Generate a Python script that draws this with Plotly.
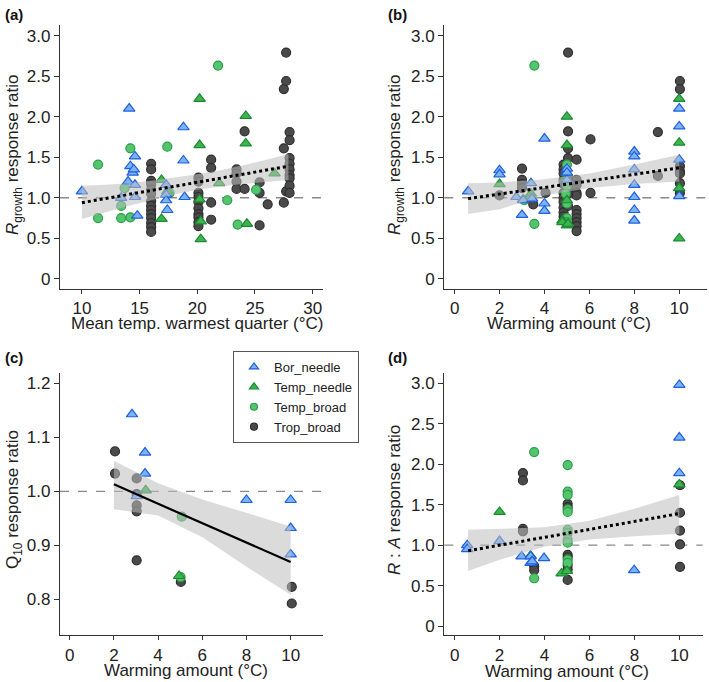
import plotly.graph_objects as go

W, H = 709, 682

# ---------------- Panel (a): Rgrowth vs mean temp warmest quarter ----------------
a_bor_x = [10.0, 13.4, 14.1, 14.0, 14.2, 14.4, 14.5, 14.6, 14.6, 14.6, 14.8, 17.3, 17.3, 17.3, 17.4, 18.8, 18.8, 18.9]
a_bor_y = [1.08, 1.00, 2.10, 1.20, 1.39, 1.31, 1.35, 1.51, 1.16, 1.01, 0.78, 1.16, 1.04, 0.97, 0.85, 1.87, 1.46, 1.01]
a_tn_x = [16.9, 16.9, 17.4, 20.2, 20.2, 20.2, 20.3, 20.3, 21.9, 24.2, 24.2, 24.3, 26.7]
a_tn_y = [1.22, 0.74, 1.08, 2.22, 1.65, 0.98, 0.71, 0.49, 1.18, 2.01, 1.67, 0.68, 1.30]
a_tb_x = [11.4, 11.4, 13.4, 13.7, 13.4, 14.2, 14.2, 17.4, 17.6, 21.8, 22.6, 23.5, 25.1]
a_tb_y = [1.41, 0.75, 0.75, 1.12, 0.90, 1.61, 0.76, 1.63, 1.06, 2.63, 0.97, 0.67, 1.10]
a_tr_x = [16.0, 16.0, 16.0, 16.0, 16.0, 16.0, 16.0, 16.0, 16.0, 16.0, 16.0, 16.0, 16.0, 16.0,
          20.1, 20.1, 20.1, 20.1, 20.1, 20.1, 20.1, 20.1, 20.1, 20.1,
          21.2, 21.2, 21.2, 21.2, 23.4, 23.4, 23.4, 23.4, 24.1, 24.1,
          25.4, 25.4, 25.4, 26.1, 27.5, 27.5, 27.5, 27.7, 27.7, 27.7,
          28.0, 28.0, 28.0, 28.0, 28.0, 28.0, 28.0, 28.0, 28.0]
a_tr_y = [1.42, 1.35, 1.21, 1.17, 1.10, 1.05, 0.96, 0.90, 0.85, 0.80, 0.75, 0.69, 0.64, 0.58,
          1.25, 1.20, 1.06, 1.01, 0.95, 0.87, 0.80, 0.76, 0.70, 0.65,
          1.47, 1.37, 0.94, 0.73, 1.35, 1.30, 1.20, 1.11, 1.82, 1.11,
          1.19, 1.06, 0.66, 0.92, 2.34, 1.61, 0.94, 2.79, 2.44, 1.08,
          1.81, 1.71, 1.49, 1.42, 1.35, 1.28, 1.24, 1.15, 1.06]
a_fit_x = [10.0, 27.9]
a_fit_y = [0.94, 1.39]
a_ci_x = [10, 12, 14, 16, 18, 20, 22, 24, 26, 27.9]
a_ci_hi = [1.15, 1.16, 1.18, 1.21, 1.25, 1.29, 1.34, 1.40, 1.47, 1.54]
a_ci_lo = [0.74, 0.82, 0.90, 0.97, 1.04, 1.10, 1.14, 1.17, 1.20, 1.22]

# ---------------- Panel (b): Rgrowth vs warming amount ----------------
b_bor_x = [0.6, 2.0, 2.0, 2.75, 3.0, 3.05, 3.4, 3.45, 4.0, 4.0, 4.0, 5.0, 5.0, 5.0,
           8.0, 8.0, 8.0, 8.0, 8.0, 8.0, 8.0, 10.0, 10.0, 10.0, 10.0]
b_bor_y = [1.08, 1.34, 1.29, 1.01, 0.79, 0.97, 1.18, 0.99, 1.73, 0.93, 0.84, 1.36, 1.31, 1.22,
           1.57, 1.51, 1.35, 1.16, 1.01, 0.85, 0.72, 2.10, 1.88, 1.47, 1.02]
b_tn_x = [2.0, 3.4, 3.05, 4.8, 4.8, 5.0, 5.0, 5.0, 4.9, 5.0, 5.0, 5.05, 10.0, 10.0, 10.0, 10.0]
b_tn_y = [1.17, 1.05, 0.98, 0.72, 0.70, 2.00, 1.65, 1.30, 1.22, 0.97, 0.66, 0.68, 2.22, 1.68, 1.12, 0.50]
b_tb_x = [3.55, 3.55, 3.1, 5.0, 5.0, 5.0, 5.0, 5.0, 4.95]
b_tb_y = [2.63, 0.68, 0.97, 1.41, 1.15, 0.93, 0.75, 0.70, 1.05]
b_tr_x = [2.0, 3.0, 3.0, 3.0, 3.0, 3.5, 4.05,
          4.85, 4.85, 4.85, 4.85, 4.85, 4.85, 4.85, 4.85, 4.85, 4.85, 4.85, 4.85,
          5.05, 5.05, 5.05, 5.05, 5.05, 5.05, 5.05, 5.05,
          5.43, 5.43, 5.43, 5.43, 5.43, 5.43, 5.43, 5.43, 5.43, 5.43, 5.43,
          6.05, 6.05, 9.05, 9.05, 10.03, 10.03, 10.03, 10.03, 10.03, 10.03, 10.03]
b_tr_y = [1.03, 1.36, 1.22, 1.17, 1.12, 0.92, 1.06,
          1.41, 1.35, 1.30, 1.22, 1.17, 1.06, 1.00, 0.95, 0.88, 0.82, 0.77, 0.72,
          2.79, 1.82, 1.61, 1.49, 1.25, 1.10, 1.05, 0.90,
          1.47, 1.22, 1.16, 1.06, 1.03, 0.85, 0.80, 0.75, 0.70, 0.65, 0.59,
          1.72, 1.06, 1.81, 1.27, 2.44, 2.34, 1.39, 1.33, 1.30, 1.18, 1.06]
b_fit_x = [0.6, 10.0]
b_fit_y = [0.99, 1.37]
b_ci_x = [0.6, 2, 4, 6, 8, 10]
b_ci_hi = [1.18, 1.19, 1.23, 1.30, 1.41, 1.53]
b_ci_lo = [0.80, 0.86, 1.03, 1.12, 1.17, 1.20]

# ---------------- Panel (c): Q10 vs warming amount ----------------
c_bor_x = [2.82, 3.41, 3.41, 3.03, 8.0, 10.0, 10.0, 10.0]
c_bor_y = [1.143, 1.072, 1.033, 0.991, 0.984, 0.984, 0.932, 0.883]
c_tn_x = [3.44, 4.95]
c_tn_y = [1.002, 0.843]
c_tb_x = [5.07, 5.02]
c_tb_y = [0.953, 0.841]
c_tr_x = [2.05, 2.05, 3.03, 3.03, 3.03, 3.03, 3.03, 5.03, 10.05, 10.05]
c_tr_y = [1.074, 1.033, 1.024, 0.995, 0.974, 0.963, 0.872, 0.832, 0.823, 0.792]
c_fit_x = [2.0, 10.0]
c_fit_y = [1.013, 0.869]
c_ci_x = [2, 4, 6, 8, 10]
c_ci_hi = [1.057, 1.015, 0.985, 0.960, 0.935]
c_ci_lo = [0.967, 0.955, 0.915, 0.860, 0.808]

# ---------------- Panel (d): R:A vs warming amount ----------------
d_bor_x = [0.56, 0.56, 2.0, 2.98, 3.38, 3.38, 3.45, 3.98, 7.99, 10.0, 10.0, 10.0]
d_bor_y = [1.00, 0.95, 1.05, 0.86, 0.86, 0.78, 0.80, 0.84, 0.69, 2.98, 2.33, 1.89]
d_tn_x = [2.0, 3.38, 4.76, 5.0, 10.0]
d_tn_y = [1.41, 0.87, 0.65, 0.68, 1.75]
d_tb_x = [3.54, 3.54, 5.03, 5.03, 5.03, 5.03, 5.03, 5.03, 5.03, 5.03, 5.03, 5.03, 5.03]
d_tb_y = [2.15, 0.59, 1.99, 1.66, 1.62, 1.44, 1.41, 1.19, 1.15, 1.07, 1.03, 0.82, 0.78]
d_tr_x = [3.04, 3.04, 3.04, 3.04, 3.54, 3.54, 5.03, 5.03, 5.03, 5.03, 5.03, 5.03, 5.03,
          10.03, 10.03, 10.03, 10.03, 10.03]
d_tr_y = [1.89, 1.80, 1.20, 1.17, 0.74, 0.69, 1.51, 1.47, 0.88, 0.85, 0.75, 0.70, 0.57,
          1.74, 1.40, 1.18, 1.01, 0.73]
d_fit_x = [0.6, 10.0]
d_fit_y = [0.93, 1.39]
d_ci_x = [0.6, 2, 4, 6, 8, 10]
d_ci_hi = [1.19, 1.20, 1.22, 1.30, 1.45, 1.62]
d_ci_lo = [0.68, 0.82, 0.98, 1.07, 1.11, 1.14]

groups = ["Bor_needle", "Temp_needle", "Temp_broad", "Trop_broad"]

# ---------------- styling ----------------
FONT = "Liberation Sans, Arial, sans-serif"
STY = {
    "Bor_needle": dict(symbol="triangle-up", color="#7ab3f3", line="#1f5fe0", size=10),
    "Temp_needle": dict(symbol="triangle-up", color="#3db54f", line="#1c8a33", size=10),
    "Temp_broad": dict(symbol="circle", color="#55c46e", line="#2a9e47", size=9),
    "Trop_broad": dict(symbol="circle", color="#4a4a4a", line="#2e2e2e", size=9),
}
BAND = "rgba(190,190,190,0.55)"

fig = go.Figure()

panels = [
    ("x", "y", {"Bor_needle": (a_bor_x, a_bor_y), "Temp_needle": (a_tn_x, a_tn_y),
                "Temp_broad": (a_tb_x, a_tb_y), "Trop_broad": (a_tr_x, a_tr_y)},
     a_fit_x, a_fit_y, a_ci_x, a_ci_hi, a_ci_lo, "dot"),
    ("x2", "y2", {"Bor_needle": (b_bor_x, b_bor_y), "Temp_needle": (b_tn_x, b_tn_y),
                  "Temp_broad": (b_tb_x, b_tb_y), "Trop_broad": (b_tr_x, b_tr_y)},
     b_fit_x, b_fit_y, b_ci_x, b_ci_hi, b_ci_lo, "dot"),
    ("x3", "y3", {"Bor_needle": (c_bor_x, c_bor_y), "Temp_needle": (c_tn_x, c_tn_y),
                  "Temp_broad": (c_tb_x, c_tb_y), "Trop_broad": (c_tr_x, c_tr_y)},
     c_fit_x, c_fit_y, c_ci_x, c_ci_hi, c_ci_lo, "solid"),
    ("x4", "y4", {"Bor_needle": (d_bor_x, d_bor_y), "Temp_needle": (d_tn_x, d_tn_y),
                  "Temp_broad": (d_tb_x, d_tb_y), "Trop_broad": (d_tr_x, d_tr_y)},
     d_fit_x, d_fit_y, d_ci_x, d_ci_hi, d_ci_lo, "dot"),
]

draw_order = ["Trop_broad", "Temp_broad", "Temp_needle", "Bor_needle"]

for xa, ya, data, fx, fy, cx, chi, clo, dash in panels:
    for g in draw_order:
        s = STY[g]
        xs, ys = data[g]
        fig.add_trace(go.Scatter(
            x=xs, y=ys, mode="markers", xaxis=xa, yaxis=ya, showlegend=False,
            marker=dict(symbol=s["symbol"], size=s["size"], color=s["color"],
                        line=dict(color=s["line"], width=1.2)),
            hoverinfo="skip"))
    # confidence band drawn over the points
    fig.add_trace(go.Scatter(
        x=list(cx) + list(cx)[::-1], y=list(chi) + list(clo)[::-1],
        mode="lines", fill="toself", fillcolor=BAND, line=dict(width=0),
        xaxis=xa, yaxis=ya, showlegend=False, hoverinfo="skip"))
    fig.add_trace(go.Scatter(
        x=fx, y=fy, mode="lines", xaxis=xa, yaxis=ya, showlegend=False,
        line=dict(color="black", width=3 if dash == "dot" else 2.2, dash=dash),
        hoverinfo="skip"))

# legend-only traces (small markers)
for g in groups:
    s = STY[g]
    fig.add_trace(go.Scatter(
        x=[None], y=[None], mode="markers", name=g, xaxis="x3", yaxis="y3",
        marker=dict(symbol=s["symbol"], size=8 if "needle" in g else 7, color=s["color"],
                    line=dict(color=s["line"], width=1.2))))

def px2x(p):
    return p / W

def px2y(p):
    return 1 - p / H

dom = {
    "a": ([px2x(60), px2x(322.7)], [px2y(288.7), px2y(25)]),
    "b": ([px2x(444.3), px2x(707.3)], [px2y(288.7), px2y(25)]),
    "c": ([px2x(60), px2x(322.7)], [px2y(635.3), px2y(373.3)]),
    "d": ([px2x(444.3), px2x(702.7)], [px2y(635.3), px2y(373.3)]),
}

axcommon = dict(showline=True, linecolor="#333333", linewidth=1.3, ticks="outside",
                ticklen=5, tickwidth=1.3, tickcolor="#333333", showgrid=False,
                zeroline=False, tickfont=dict(family=FONT, size=17, color="#222222"))
xcommon = dict(axcommon, ticklen=4)

warm_ticks = [0, 2, 4, 6, 8, 10]
temp_ticks = [10, 15, 20, 25, 30]
ratio_ticks = [0, 0.5, 1.0, 1.5, 2.0, 2.5, 3.0]
ratio_text = ["0", "0.5", "1.0", "1.5", "2.0", "2.5", "3.0"]
q10_ticks = [0.8, 0.9, 1.0, 1.1, 1.2]
q10_text = ["0.8", "0.9", "1.0", "1.1", "1.2"]

fig.update_layout(
    width=W, height=H, margin=dict(l=0, r=0, t=0, b=0),
    paper_bgcolor="white", plot_bgcolor="rgba(0,0,0,0)",
    font=dict(family=FONT, color="#222222"),
    xaxis=dict(domain=dom["a"][0], anchor="y", range=[8.1, 30.87], tickvals=temp_ticks, **xcommon),
    yaxis=dict(domain=dom["a"][1], anchor="x", range=[-0.12, 3.13], tickvals=ratio_ticks, ticktext=ratio_text, **axcommon),
    xaxis2=dict(domain=dom["b"][0], anchor="y2", range=[-0.46, 11.25], tickvals=warm_ticks, **xcommon),
    yaxis2=dict(domain=dom["b"][1], anchor="x2", range=[-0.12, 3.13], tickvals=ratio_ticks, ticktext=ratio_text, **axcommon),
    xaxis3=dict(domain=dom["c"][0], anchor="y3", range=[-0.44, 11.45], tickvals=warm_ticks, **xcommon),
    yaxis3=dict(domain=dom["c"][1], anchor="x3", range=[0.733, 1.219], tickvals=q10_ticks, ticktext=q10_text, **axcommon),
    xaxis4=dict(domain=dom["d"][0], anchor="y4", range=[-0.46, 11.04], tickvals=warm_ticks, **xcommon),
    yaxis4=dict(domain=dom["d"][1], anchor="x4", range=[-0.115, 3.124], tickvals=ratio_ticks, ticktext=ratio_text, **axcommon),
    legend=dict(x=px2x(233), y=px2y(351), xanchor="left", yanchor="top",
                bgcolor="white", bordercolor="#555555", borderwidth=1,
                font=dict(family=FONT, size=13, color="#222222"),
                itemsizing="trace", tracegroupgap=0, itemwidth=30),
)

# dashed reference lines at y = 1
for xa, ya in [("x", "y"), ("x2", "y2"), ("x3", "y3"), ("x4", "y4")]:
    fig.add_shape(type="line", xref=f"{xa} domain", yref=ya, x0=0, x1=1, y0=1, y1=1,
                  line=dict(color="#8a8a8a", width=1.4, dash="dash"), layer="below")

# legend shadow
fig.add_shape(type="rect", xref="paper", yref="paper",
              x0=px2x(236), x1=px2x(346), y0=px2y(441), y1=px2y(354),
              fillcolor="#bdbdbd", line=dict(width=0), layer="below")

ann = []
for lab, x, y in [("(a)", 3, 15), ("(b)", 386, 15), ("(c)", 3, 357), ("(d)", 386, 357)]:
    ann.append(dict(text=f"<b>{lab}</b>", x=px2x(x), y=px2y(y), xref="paper", yref="paper",
                    xanchor="left", yanchor="middle", showarrow=False,
                    font=dict(family=FONT, size=15, color="#111111")))

xt = [("Mean temp. warmest quarter (°C)", 197, 323), ("Warming amount (°C)", 569, 323),
      ("Warming amount (°C)", 186, 670), ("Warming amount (°C)", 567, 671)]
for t, x, y in xt:
    ann.append(dict(text=t, x=px2x(x), y=px2y(y), xref="paper", yref="paper",
                    xanchor="center", yanchor="middle", showarrow=False,
                    font=dict(family=FONT, size=17, color="#222222")))

yt = [("<i>R</i><sub>growth</sub> response ratio", 14, 155),
      ("<i>R</i><sub>growth</sub> response ratio", 396, 155),
      ("Q<sub>10</sub> response ratio", 14, 500),
      ("<i>R</i> : <i>A</i> response ratio", 394, 500)]
for t, x, y in yt:
    ann.append(dict(text=t, x=px2x(x), y=px2y(y), xref="paper", yref="paper",
                    xanchor="center", yanchor="middle", showarrow=False, textangle=-90,
                    font=dict(family=FONT, size=17, color="#222222")))

fig.update_layout(annotations=ann)

fig.write_html("out.html", config={"displayModeBar": False},
               post_script="document.body.style.margin='0px';document.body.style.overflow='hidden';")
